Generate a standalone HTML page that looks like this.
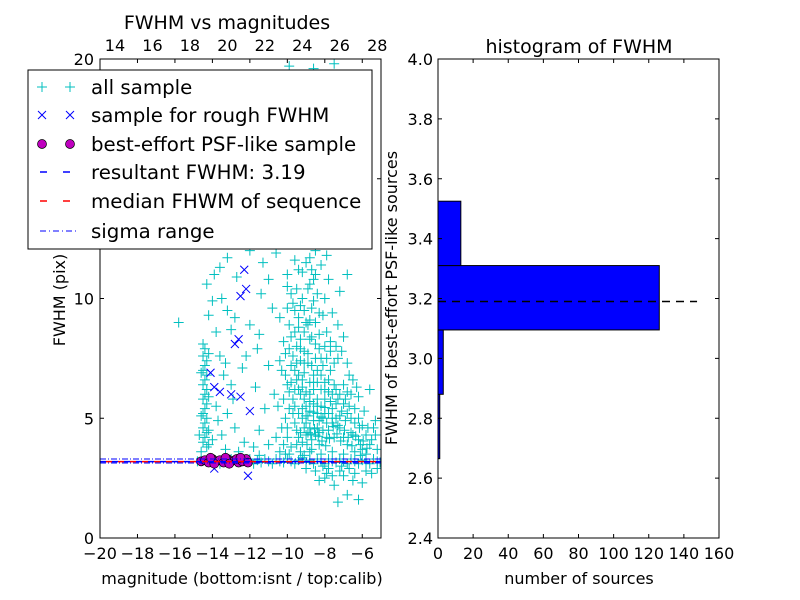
<!DOCTYPE html>
<html><head><meta charset="utf-8">
<style>
html,body{margin:0;padding:0;background:#fff;}
svg{display:block;font-family:"DejaVu Sans","Liberation Sans",sans-serif;}
</style></head>
<body>
<svg id="chart" width="800" height="600" xmlns="http://www.w3.org/2000/svg">
<rect width="800" height="600" fill="#fff"/>
<g id="left"></g>
<g id="right"></g>
</svg>
<script>
const allSample = [
[-14.5,8.1],[-14.4,7.9],[-14.5,7.6],[-14.3,7.4],[-14.4,7.2],[-14.5,7.0],[-14.3,6.8],[-14.4,6.6],[-14.5,6.4],[-14.3,6.2],[-14.4,6.0],[-14.5,5.8],[-14.3,5.6],[-14.4,5.4],[-14.5,5.2],[-14.3,5.0],[-14.4,4.8],[-14.5,4.6],[-14.3,4.4],[-14.4,4.2],[-14.5,4.0],[-14.3,3.8],[-14.6,3.6],[-14.2,7.7],[-14.6,6.9],[-14.2,5.9],[-14.6,5.1],[-14.2,4.5],[-14.7,4.3],[-14.2,3.9],
[-15.8,9.0],[-14.0,9.9],[-13.5,10.0],[-13.2,9.5],[-12.8,9.2],[-14.2,9.3],[-13.8,8.6],[-13.0,8.7],[-12.0,8.9],[-11.5,8.5],[-13.6,7.6],[-13.3,7.3],[-12.2,7.6],[-11.0,7.2],[-13.8,5.5],[-13.2,5.2],[-13.0,6.4],[-12.8,4.6],[-13.5,4.3],[-12.3,4.0],[-11.5,4.5],[-11.2,5.4],[-13.9,11.0],[-13.2,11.7],[-12.0,12.0],[-11.3,11.5],[-11.0,10.8],[-10.8,9.6],[-11.4,10.2],[-12.7,10.9],[-13.6,11.3],[-14.3,10.6],[-10.6,11.9],[-13.4,6.8],[-12.9,5.8],[-11.7,6.3],[-12.4,7.1],[-13.7,4.9],[-14.0,4.1],[-13.3,3.7],[-12.6,3.6],[-11.8,3.8],[-11.0,3.9],[-10.6,4.2],[-10.7,6.0],[-11.6,7.9],
[-10.2,12.5],[-10.0,11.0],[-9.8,10.2],[-9.6,9.5],[-9.4,8.8],[-9.5,8.0],[-9.3,7.4],[-9.6,7.0],[-9.2,6.6],[-9.4,6.2],[-9.7,5.8],[-9.9,5.4],[-10.1,5.0],[-10.3,4.6],[-10.0,4.2],[-9.8,3.8],[-9.5,4.5],[-9.2,5.0],[-9.0,5.5],[-8.8,6.0],[-8.6,6.5],[-8.4,7.0],[-8.2,7.5],[-8.0,8.0],[-8.3,8.5],[-8.5,9.0],[-8.7,9.6],[-8.4,10.2],[-8.6,10.8],[-8.2,11.4],[-8.5,12.0],[-8.8,12.6],[-8.3,13.2],[-9.0,13.8],[-9.4,14.5],[-8.7,15.2],[-9.1,16.0],[-8.5,16.8],[-9.6,17.5],[-8.9,18.3],[-9.3,19.0],[-8.6,19.6],[-7.5,19.8],[-6.9,18.5],[-7.7,16.5],[-10.3,15.0],[-10.6,13.5],
[-9.2,4.0],[-9.0,4.3],[-8.8,4.6],[-8.6,4.9],[-8.4,5.2],[-8.2,5.5],[-8.0,5.8],[-7.8,6.1],[-7.6,5.4],[-7.4,5.0],[-7.2,4.6],[-7.0,4.2],[-6.8,3.9],[-6.6,4.4],[-6.4,4.8],[-6.2,4.1],[-6.0,3.7],[-5.8,4.3],[-5.6,3.9],[-5.4,4.6],[-7.9,4.2],[-8.1,4.5],[-8.3,3.9],[-8.5,4.3],[-8.7,3.7],[-8.9,5.1],[-9.1,5.8],[-9.3,6.0],[-8.0,6.5],[-7.7,7.0],[-7.5,6.4],[-7.3,5.8],[-7.1,5.3],[-6.9,4.9],[-6.7,5.5],[-7.9,4.8],[-8.1,5.0],[-8.4,4.6],[-8.6,5.6],[-8.8,5.3],[-9.0,4.8],[-9.4,4.2],[-9.6,4.8],[-9.7,5.2],[-9.9,6.1],[-10.1,6.8],[-10.4,7.4],[-10.2,8.2],[-9.9,8.9],[-9.7,9.8],[-10.0,10.5],[-10.4,9.2],[-7.9,8.6],[-7.6,9.4],[-7.3,8.9],[-7.1,7.8],[-6.8,7.3],[-6.5,6.6],[-6.2,5.9],[-5.9,5.3],[-5.6,6.2],[-5.3,4.9],[-7.2,10.3],[-6.8,11.0],[-7.5,12.4],[-7.9,11.8],[-8.1,13.8],[-7.4,14.6],[-10.5,5.5],[-10.4,3.6],[-9.9,3.5],[-9.3,3.6],[-8.8,3.6],[-8.2,3.5],[-7.6,3.6],[-7.0,3.5],[-6.4,3.6],[-5.8,3.5],[-5.2,3.7],
[-8.9,4.4],[-8.7,4.1],[-8.3,4.9],[-8.0,5.2],[-7.8,4.5],[-7.5,4.2],[-7.3,4.7],[-7.7,5.7],[-8.2,6.2],[-8.4,5.8],[-8.6,6.8],[-8.9,7.3],[-9.1,6.9],[-9.5,6.6],[-9.8,7.2],[-9.1,7.8],[-8.8,8.3],[-9.0,9.0],[-9.3,9.7],[-8.9,10.4],[-9.2,11.1],[-8.8,11.7],[-9.5,12.3],[-9.0,12.9],[-8.1,9.3],[-8.0,10.0],[-7.8,10.8],[-9.7,13.2],[-9.9,14.1],[-8.5,14.0],[-9.2,15.0],[-8.4,15.8],[-9.5,16.6],[-8.0,17.2],[-9.7,18.6],[-8.3,18.9],[-9.9,19.7],[-10.3,18.0],[-7.2,17.8],
[-9.5,3.9],[-9.3,4.4],[-9.1,4.6],[-8.95,3.9],[-8.75,4.35],[-8.55,4.55],[-8.35,4.25],[-8.15,4.05],[-7.95,3.85],[-7.75,4.15],[-7.55,4.65],[-7.35,4.35],[-7.15,4.05],[-6.95,4.5],[-6.75,4.2],[-6.55,3.85],[-6.35,4.25],[-6.15,4.6],[-5.95,4.05],[-5.75,3.75],
[-9.6,5.5],[-9.4,5.2],[-9.2,5.4],[-9.0,5.1],[-8.8,5.7],[-8.6,5.25],[-8.4,5.5],[-8.2,5.05],[-8.0,5.45],[-7.8,5.2],[-7.6,5.0],[-7.4,5.6],[-7.2,5.1],[-7.0,5.6],[-6.8,5.2],[-6.6,5.0],[-6.4,5.4],[-6.2,5.0],[-6.0,4.7],[-5.7,4.6],
[-9.8,6.5],[-9.6,6.2],[-9.4,6.8],[-9.2,6.3],[-9.0,6.1],[-8.8,6.5],[-8.6,6.2],[-8.4,6.5],[-8.2,6.8],[-8.0,6.2],[-7.8,6.6],[-7.6,6.0],[-7.4,6.2],[-7.2,6.0],[-7.0,6.4],[-6.8,6.1],[-6.6,6.0],[-9.7,7.6],[-9.5,7.3],[-9.3,7.9],[-9.1,7.3],[-8.9,7.7],[-8.7,7.2],[-8.5,7.5],[-8.3,7.9],[-8.1,7.2],[-7.9,7.5],[-7.7,7.8],[-7.5,7.3],[-7.3,7.5],
[-9.8,8.4],[-9.6,8.6],[-9.3,8.3],[-9.1,8.6],[-8.9,8.9],[-8.7,8.4],[-8.5,8.1],[-8.3,9.4],[-9.4,9.2],[-9.1,9.5],[-8.8,9.1],[-8.6,9.9],[-9.5,10.4],[-9.2,10.0],[-8.8,10.6],[-8.5,11.0],[-9.4,11.2],[-9.0,11.5],[-8.7,11.2],[-9.6,11.6],
[-10.2,3.9],[-10.0,4.6],[-10.2,5.8],[-10.0,6.4],[-10.3,7.0],[-10.1,7.7],[-9.9,7.9],[-10.0,9.6],[-7.7,8.2],[-7.4,8.0],[-7.0,8.4],[-6.7,6.8],[-6.3,6.3],[-6.9,5.8],[-6.5,4.3],[-6.1,3.9],[-5.5,4.1],[-5.3,4.3],[-7.6,4.8],[-8.3,4.4],
[-9.0,2.9],[-8.5,2.8],[-8.0,2.5],[-7.8,2.9],[-7.5,2.2],[-7.3,1.5],[-7.0,2.6],[-6.8,1.8],[-6.5,2.4],[-6.2,1.6],[-6.0,2.3],[-5.5,2.7],[-5.2,2.9],[-8.3,2.4],[-7.2,2.8],[-7.6,2.6],[-6.7,2.9],[-6.4,2.7],[-7.9,2.7],[-5.8,2.8],
[-14.8,3.2],[-14.2,3.3],[-13.6,3.1],[-13.0,3.3],[-12.5,3.2],[-12.0,3.3],[-11.8,3.1],[-11.6,3.25],[-11.4,3.15],[-11.2,3.3],[-11.0,3.2],[-10.8,3.1],[-10.6,3.3],[-10.4,3.2],[-10.2,3.15],[-10.0,3.3],[-9.8,3.2],[-9.6,3.1],[-9.4,3.25],[-9.2,3.35],[-9.0,3.15],[-8.8,3.25],[-8.6,3.1],[-8.4,3.3],[-8.2,3.2],[-8.0,3.1],[-7.8,3.3],[-7.6,3.2],[-7.4,3.15],[-7.2,3.3],[-7.0,3.2],[-6.8,3.1],[-6.6,3.3],[-6.4,3.2],[-6.2,3.1],[-6.0,3.25],[-5.8,3.2],[-5.6,3.1],[-5.4,3.3],[-5.2,3.2],[-5.05,3.15],[-11.5,3.45],[-10.1,3.5],[-9.1,3.45],[-8.1,3.0],[-7.1,3.0],[-6.1,3.45]
];
const roughSample = [[-12.3,11.2],[-12.5,10.1],[-12.2,10.4],[-12.8,8.1],[-12.6,8.3],[-14.1,6.9],[-13.9,6.3],[-13.6,6.1],[-13.0,6.0],[-12.5,5.9],[-12.0,5.3],[-13.9,2.9],[-12.1,2.6]];
const psfSample = [[-14.6,3.2],[-14.4,3.25],[-14.2,3.15],[-14.0,3.3],[-13.8,3.2],[-13.6,3.25],[-13.4,3.15],[-13.2,3.3],[-13.0,3.2],[-12.8,3.25],[-12.6,3.15],[-12.4,3.2],[-12.2,3.3],[-12.1,3.15],[-13.9,3.1],[-13.3,3.35],[-12.7,3.3],[-14.1,3.35],[-13.1,3.1],[-12.5,3.35]];
const resultantFWHM = 3.19;
const medianFWHM = 3.19;
const sigmaLow = 3.13;
const sigmaHigh = 3.30;
const xTicksBottom = [-20,-18,-16,-14,-12,-10,-8,-6];
const xTicksTop = [14,16,18,20,22,24,26,28];
const yTicksLeft = [0,5,10,15,20];
const histEdges = [2.665,2.88,3.095,3.31,3.525];
const histCounts = [1,3,126,13];
const histXTicks = [0,20,40,60,80,100,120,140,160];
const histYTicks = ["2.4","2.6","2.8","3.0","3.2","3.4","3.6","3.8","4.0"];

const NS="http://www.w3.org/2000/svg";
function mk(parent,tag,attrs,text){const e=document.createElementNS(NS,tag);for(const k in attrs)e.setAttribute(k,attrs[k]);if(text!==undefined)e.textContent=text;parent.appendChild(e);return e;}
const L=document.getElementById('left'), R=document.getElementById('right');
const LX0=100,LX1=381,LY0=59,LY1=538;
const lx=v=>LX0+(v+20)/15*(LX1-LX0);
const ltx=v=>LX0+(v-14+0.8)/15*(LX1-LX0);
const ly=v=>LY1-v/20*(LY1-LY0);
const clipL=mk(L,'clipPath',{id:'clipL'});mk(clipL,'rect',{x:LX0,y:LY0,width:LX1-LX0,height:LY1-LY0});
const pts=mk(L,'g',{'clip-path':'url(#clipL)'});


const gAll=mk(pts,'g',{stroke:'#00bfbf','stroke-width':1});


allSample.forEach(p=>{const x=lx(p[0]),y=ly(p[1]);const e=mk(gAll,'path',{d:`M${x-5} ${y}H${x+5}M${x} ${y-5}V${y+5}`});

});
const gR=mk(pts,'g',{stroke:'#0000ff','stroke-width':1});


roughSample.forEach(p=>{const x=lx(p[0]),y=ly(p[1]);const e=mk(gR,'path',{d:`M${x-4} ${y-4}L${x+4} ${y+4}M${x-4} ${y+4}L${x+4} ${y-4}`});

});
const gP=mk(pts,'g',{fill:'#bf00bf',stroke:'#000','stroke-width':0.7});


psfSample.forEach(p=>{const e=mk(gP,'circle',{cx:lx(p[0]),cy:ly(p[1]),r:4.5});

});
let e;
e=mk(pts,'line',{x1:LX0,x2:LX1,y1:ly(sigmaHigh),y2:ly(sigmaHigh),stroke:'#00f','stroke-dasharray':'6 2 1 2'});

e=mk(pts,'line',{x1:LX0,x2:LX1,y1:ly(sigmaLow),y2:ly(sigmaLow),stroke:'#00f','stroke-dasharray':'6 2 1 2'});

e=mk(pts,'line',{x1:LX0,x2:LX1,y1:ly(resultantFWHM),y2:ly(resultantFWHM),stroke:'#00f','stroke-width':1.5,'stroke-dasharray':'6 6'});

e=mk(pts,'line',{x1:LX0+6,x2:LX1,y1:ly(medianFWHM),y2:ly(medianFWHM),stroke:'#f00','stroke-width':1.5,'stroke-dasharray':'6 6'});

e=mk(L,'rect',{x:LX0,y:LY0,width:LX1-LX0,height:LY1-LY0,fill:'none',stroke:'#000'});

xTicksBottom.forEach(v=>{const x=lx(v);mk(L,'path',{d:`M${x} ${LY1}v-4M${x} ${LY0}v4`,stroke:'#000'});
e=mk(L,'text',{x:x,y:559,'text-anchor':'middle','font-size':16},(v<0?'\u2212':'')+Math.abs(v));
});
xTicksTop.forEach(v=>{const x=ltx(v);
e=mk(L,'text',{x:x,y:51,'text-anchor':'middle','font-size':16},String(v));
});
yTicksLeft.forEach(v=>{const y=ly(v);mk(L,'path',{d:`M${LX0} ${y}h4M${LX1} ${y}h-4`,stroke:'#000'});
e=mk(L,'text',{x:94,y:y+6,'text-anchor':'end','font-size':16},String(v));
});
e=mk(L,'text',{x:242,y:584,'text-anchor':'middle','font-size':16},'magnitude (bottom:isnt / top:calib)');

e=mk(L,'text',{x:0,y:0,'text-anchor':'middle','font-size':16,transform:'translate(65,300) rotate(-90)'},'FWHM (pix)');

e=mk(L,'text',{x:227,y:29,'text-anchor':'middle','font-size':19},'FWHM vs magnitudes');

const lg=mk(L,'g',{});

mk(lg,'rect',{x:28,y:70,width:344,height:179,fill:'#fff',stroke:'#000'});
const legItems=['all sample','sample for rough FWHM','best-effort PSF-like sample','resultant FWHM: 3.19','median FHWM of sequence','sigma range'];
const legY=[87,115,144,172,201,231];
legItems.forEach((t,i)=>{const y=legY[i];
const g=mk(lg,'g',{});

if(i==0)[42,70].forEach(x=>mk(g,'path',{d:`M${x-5} ${y}H${x+5}M${x} ${y-5}V${y+5}`,stroke:'#00bfbf'}));
if(i==1)[42,70].forEach(x=>mk(g,'path',{d:`M${x-4} ${y-4}L${x+4} ${y+4}M${x-4} ${y+4}L${x+4} ${y-4}`,stroke:'#00f'}));
if(i==2)[42,70].forEach(x=>mk(g,'circle',{cx:x,cy:y,r:4.5,fill:'#bf00bf',stroke:'#000','stroke-width':0.7}));
if(i==3)mk(g,'line',{x1:40,x2:76,y1:y,y2:y,stroke:'#00f','stroke-width':1.5,'stroke-dasharray':'7 16'});
if(i==4)mk(g,'line',{x1:40,x2:76,y1:y,y2:y,stroke:'#f00','stroke-width':1.5,'stroke-dasharray':'7 16'});
if(i==5)mk(g,'line',{x1:40,x2:76,y1:y,y2:y,stroke:'#00f','stroke-dasharray':'6 3 1 3'});
mk(g,'text',{x:91,y:y+7,'font-size':19,textLength:(t.length>20?'':''), },t);});
document.querySelectorAll('#left text').forEach(t=>{if(t.getAttribute('font-size')=='19'&&t.getAttribute('x')=='91'){t.setAttribute('font-size','19.8');}});
const RX0=438,RX1=719,RY0=59,RY1=538;
const rx=v=>RX0+v/160*(RX1-RX0);
const ry=v=>RY1-(v-2.4)/1.6*(RY1-RY0);
histCounts.forEach((c,i)=>{const y0=ry(histEdges[i+1]),y1=ry(histEdges[i]);
const b=mk(R,'rect',{x:RX0,y:y0,width:rx(c)-RX0,height:y1-y0,fill:'#0000ff',stroke:'#000','stroke-width':1});
});
e=mk(R,'line',{x1:RX0,x2:rx(147.5),y1:ry(resultantFWHM),y2:ry(resultantFWHM),stroke:'#000','stroke-width':1.5,'stroke-dasharray':'8 6'});

e=mk(R,'rect',{x:RX0,y:RY0,width:RX1-RX0,height:RY1-RY0,fill:'none',stroke:'#000'});

histXTicks.forEach(v=>{const x=rx(v);mk(R,'path',{d:`M${x} ${RY1}v-4M${x} ${RY0}v4`,stroke:'#000'});
e=mk(R,'text',{x:x,y:559,'text-anchor':'middle','font-size':16},String(v));
});
histYTicks.forEach(t=>{const y=ry(parseFloat(t));mk(R,'path',{d:`M${RX0} ${y}h4M${RX1} ${y}h-4`,stroke:'#000'});
e=mk(R,'text',{x:433,y:y+6,'text-anchor':'end','font-size':16},t);
});
e=mk(R,'text',{x:579,y:584,'text-anchor':'middle','font-size':16},'number of sources');

e=mk(R,'text',{x:0,y:0,'text-anchor':'middle','font-size':16,transform:'translate(397,298) rotate(-90)'},'FWHM of best-effort PSF-like sources');

e=mk(R,'text',{x:579,y:53,'text-anchor':'middle','font-size':19},'histogram of FWHM');

</script>
</body></html>
